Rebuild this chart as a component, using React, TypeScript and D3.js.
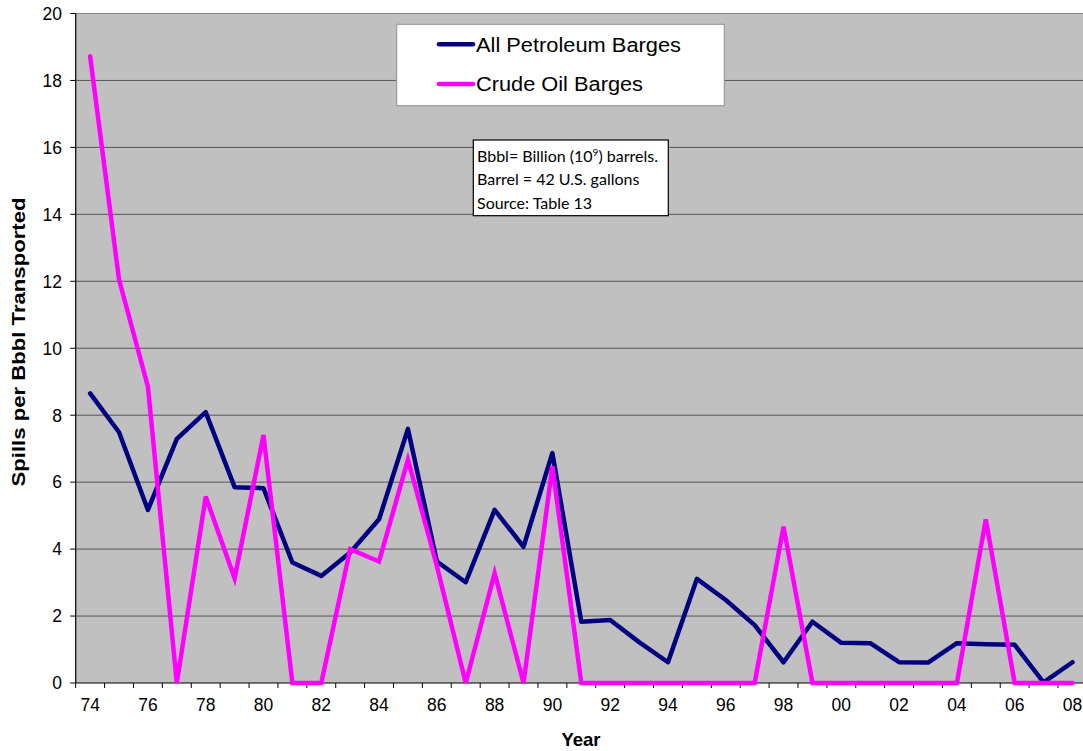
import React from "react";
import * as d3 from "d3";

const years = ["74","75","76","77","78","79","80","81","82","83","84","85","86","87","88","89","90","91","92","93","94","95","96","97","98","99","00","01","02","03","04","05","06","07","08"];
const allPetroleum = [8.65,7.49,5.17,7.29,8.09,5.85,5.82,3.6,3.2,3.9,4.89,7.59,3.63,3.01,5.17,4.07,6.87,1.83,1.88,1.22,0.62,3.11,2.48,1.73,0.62,1.83,1.2,1.19,0.62,0.61,1.19,1.16,1.14,0.02,0.62];
const crudeOil = [18.72,12.05,8.85,0,5.57,3.13,7.41,0,0,4.0,3.63,6.67,3.5,0,3.28,0,6.47,0,0,0,0,0,0,0,4.67,0,0,0,0,0,0,4.89,0,0,0];
const yTicks = [0,2,4,6,8,10,12,14,16,18,20];
const xLabelYears = years.filter((_, i) => i % 2 === 0);
const noteLines = ["Bbbl= Billion (10", "Barrel = 42 U.S. gallons", "Source: Table 13"];

export default function App() {
  const W = 1083, H = 751;
  const left = 75.7, right = 1086.9, top = 13.5, bottom = 683;
  const x = d3.scaleBand<string>().domain(years).range([left, right]).padding(0);
  const y = d3.scaleLinear().domain([0, 20]).range([bottom, top]);
  const cx = (yr: string) => (x(yr) as number) + x.bandwidth() / 2;
  const line = d3.line<number>().x((_, i) => cx(years[i])).y(d => y(d));
  const font = "Arial, 'Liberation Sans', sans-serif";
  const noteFont = "Lato, 'Open Sans', sans-serif";

  return (
    <svg width={W} height={H} style={{ position: "absolute", left: 0, top: 0, display: "block" }}>
      <rect x={0} y={0} width={W} height={H} fill="#fff" />
      <rect x={left} y={top} width={right - left} height={bottom - top} fill="#c0c0c0" />
      <line x1={left} x2={right} y1={top} y2={top} stroke="#8a8a8a" strokeWidth={1} />
      {yTicks.filter(t => t > 0 && t < 20).map(t => (
        <line key={t} x1={left} x2={right} y1={y(t)} y2={y(t)} stroke="#555" strokeWidth={1} />
      ))}
      {/* y axis */}
      <line x1={left} x2={left} y1={top} y2={bottom} stroke="#000" strokeWidth={1.2} />
      {yTicks.map(t => (
        <g key={t}>
          <line x1={left - 5.5} x2={left} y1={y(t)} y2={y(t)} stroke="#000" strokeWidth={1} />
          <text x={62} y={y(t)} dy="0.36em" textAnchor="end" fontFamily={font} fontSize={17.5} fill="#000">{t}</text>
        </g>
      ))}
      {/* x axis */}
      <line x1={left} x2={right} y1={bottom} y2={bottom} stroke="#000" strokeWidth={1.2} />
      {years.map(yr => (
        <line key={yr} x1={x(yr) as number} x2={x(yr) as number} y1={bottom} y2={bottom + 5} stroke="#000" strokeWidth={1} />
      ))}
      {xLabelYears.map(yr => (
        <text key={yr} x={cx(yr)} y={710.5} textAnchor="middle" fontFamily={font} fontSize={17.5} fill="#000">{yr}</text>
      ))}
      {/* series */}
      <path d={line(allPetroleum) || ""} fill="none" stroke="#000080" strokeWidth={4.5} strokeLinejoin="round" strokeLinecap="round" />
      <path d={line(crudeOil) || ""} fill="none" stroke="#ff00ff" strokeWidth={4.5} strokeLinejoin="miter" strokeLinecap="round" />
      {/* titles */}
      <text x={581} y={745.5} textAnchor="middle" fontFamily={font} fontSize={18.5} fontWeight="bold" fill="#000">Year</text>
      <text transform={`translate(24.5, 342) rotate(-90)`} textAnchor="middle" fontFamily={font} fontSize={19} fontWeight="bold" fill="#000" textLength={289} lengthAdjust="spacingAndGlyphs">Spills per Bbbl Transported</text>
      {/* legend */}
      <rect x={396.7} y={24.3} width={327.6} height={81.4} fill="#fff" stroke="#909090" strokeWidth={1} />
      <line x1={439} x2={473} y1={44.3} y2={44.3} stroke="#000080" strokeWidth={4.5} strokeLinecap="round" />
      <text x={476} y={44.3} dy="0.36em" fontFamily={font} fontSize={20} fill="#000" textLength={205} lengthAdjust="spacingAndGlyphs">All Petroleum Barges</text>
      <line x1={439} x2={473} y1={84} y2={84} stroke="#ff00ff" strokeWidth={4.5} strokeLinecap="round" />
      <text x={476} y={84} dy="0.36em" fontFamily={font} fontSize={20} fill="#000" textLength={167} lengthAdjust="spacingAndGlyphs">Crude Oil Barges</text>
      {/* note */}
      <rect x={473.3} y={140} width={195} height={75.7} fill="#fff" stroke="#000" strokeWidth={1.2} />
      <text x={477} y={162} fontFamily={noteFont} fontSize={16} fill="#000">
        {noteLines[0]}<tspan dy={-6} fontSize={10}>9</tspan><tspan dy={6}>) barrels.</tspan>
      </text>
      <text x={477} y={185} fontFamily={noteFont} fontSize={16} fill="#000">{noteLines[1]}</text>
      <text x={477} y={209} fontFamily={noteFont} fontSize={16} fill="#000">{noteLines[2]}</text>
    </svg>
  );
}
